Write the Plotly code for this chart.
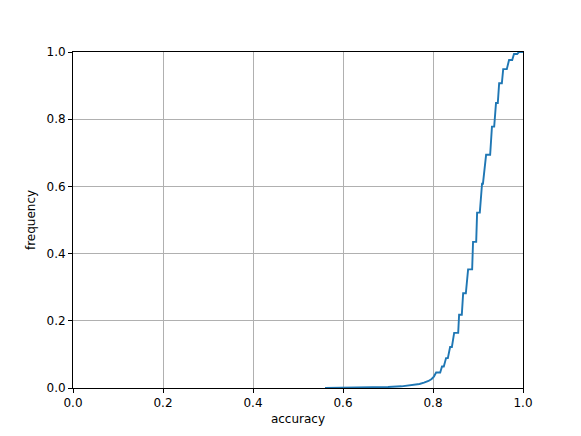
import plotly.graph_objects as go

# cumulative frequency of accuracy
accuracy = [
    0.560, 0.620, 0.660, 0.700, 0.730, 0.750, 0.770, 0.780, 0.790, 0.797, 0.802,
    0.807, 0.816, 0.820, 0.824, 0.829, 0.833, 0.838, 0.842, 0.847, 0.856,
    0.858, 0.864, 0.867, 0.873, 0.878, 0.887, 0.889, 0.896, 0.898, 0.904,
    0.909, 0.911, 0.918, 0.927, 0.931, 0.936, 0.940, 0.944, 0.947, 0.953,
    0.956, 0.964, 0.969, 0.976, 0.980, 0.987, 0.991, 1.000,
]
frequency = [
    0.000, 0.0005, 0.001, 0.003, 0.005, 0.008, 0.012, 0.016, 0.021, 0.027, 0.034,
    0.046, 0.046, 0.064, 0.064, 0.089, 0.089, 0.122, 0.122, 0.164, 0.164,
    0.218, 0.218, 0.282, 0.282, 0.353, 0.353, 0.435, 0.435, 0.522, 0.522,
    0.608, 0.608, 0.694, 0.694, 0.778, 0.778, 0.848, 0.848, 0.907, 0.907,
    0.949, 0.949, 0.976, 0.976, 0.994, 0.994, 1.000, 1.000,
]
tick_vals = [0.0, 0.2, 0.4, 0.6, 0.8, 1.0]
tick_text = ["0.0", "0.2", "0.4", "0.6", "0.8", "1.0"]

fig = go.Figure(go.Scatter(
    x=accuracy,
    y=frequency,
    mode="lines",
    line=dict(color="#1f77b4", width=1.9),
    showlegend=False,
))

axis_style = dict(
    range=[0, 1],
    tickvals=tick_vals,
    ticktext=tick_text,
    ticks="outside",
    ticklen=4,
    tickwidth=1,
    tickcolor="black",
    showline=True,
    linecolor="black",
    linewidth=1,
    mirror=True,
    showgrid=True,
    gridcolor="#b0b0b0",
    gridwidth=1,
    zeroline=False,
    tickfont=dict(size=12, color="black"),
)

# page body has an 8px margin, so the figure is shrunk to fit the window
fig.update_layout(
    width=573,
    height=428,
    paper_bgcolor="white",
    plot_bgcolor="white",
    font=dict(family="DejaVu Sans", color="black"),
    margin=dict(l=65, r=58, t=44, b=48),
    xaxis=dict(axis_style, title=dict(text="accuracy", font=dict(size=12), standoff=5)),
    yaxis=dict(axis_style, title=dict(text="frequency", font=dict(size=12), standoff=8)),
)

fig.write_html("out.html")
